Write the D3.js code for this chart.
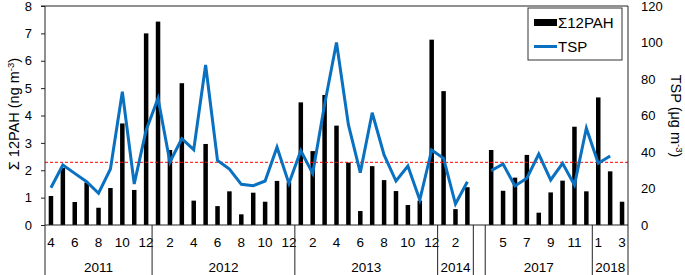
<!DOCTYPE html>
<html>
<head>
<meta charset="utf-8">
<script src="https://cdn.jsdelivr.net/npm/d3@7"></script>
<style>
  body { margin: 0; background: #fff; }
  svg { font-family: "Liberation Sans", Arial, sans-serif; display: block; }
</style>
</head>
<body>
<svg id="chart" width="685" height="275"></svg>
<script>
// one slot per sampling month, "gap" is the empty slot between 2014 and 2017
const categories = [
  "2011-4","2011-5","2011-6","2011-7","2011-8","2011-9","2011-10","2011-11","2011-12",
  "2012-1","2012-2","2012-3","2012-4","2012-5","2012-6","2012-7","2012-8","2012-9","2012-10","2012-11","2012-12",
  "2013-1","2013-2","2013-3","2013-4","2013-5","2013-6","2013-7","2013-8","2013-9","2013-10","2013-11","2013-12",
  "2014-1","2014-2","2014-3",
  "gap",
  "2017-4","2017-5","2017-6","2017-7","2017-8","2017-9","2017-10","2017-11","2017-12",
  "2018-1","2018-2","2018-3"
];

// Σ12PAH (ng m-3)
const pah = [
  1.06, 2.08, 0.84, 1.55, 0.63, 1.35, 3.71, 1.28, 7.0,
  7.43, 2.74, 5.18, 0.89, 2.96, 0.69, 1.23, 0.39, 1.18, 0.85, 1.61, 1.56,
  4.48, 2.70, 4.75, 3.63, 2.28, 0.51, 2.15, 1.64, 1.24, 0.73, 0.89, 6.77,
  4.89, 0.58, 1.38,
  null,
  2.74, 1.25, 1.73, 2.56, 0.45, 1.19, 1.62, 3.59, 1.23,
  4.66, 1.96, 0.85
];

// TSP (µg m-3)
const tsp = [
  20.4, 32.9, 28.3, 23.7, 17.4, 30.7, 73.0, 22.5, 52,
  69.4, 34.5, 47.3, 41.3, 87.7, 35.4, 30.7, 22.3, 21.5, 24.1, 42.6, 22.8,
  40.7, 28.3, 66, 100, 55, 28.7, 61.5, 38.4, 24.1, 32.3, 13.7, 41.1,
  36.5, 11.5, 23.7,
  null,
  29.8, 33.4, 21.4, 25.6, 38.9, 24.7, 33.8, 21.9, 53,
  33.8, 37.8, null
];

const refLine = 2.29;

const monthTicks = [
  "2011-4","2011-6","2011-8","2011-10","2011-12",
  "2012-2","2012-4","2012-6","2012-8","2012-10","2012-12",
  "2013-2","2013-4","2013-6","2013-8","2013-10","2013-12",
  "2014-2",
  "2017-5","2017-7","2017-9","2017-11",
  "2018-1","2018-3"
];

// year groups: label, first slot, last slot
const yearGroups = [
  ["2011", "2011-4", "2011-12"],
  ["2012", "2012-1", "2012-12"],
  ["2013", "2013-1", "2013-12"],
  ["2014", "2014-1", "2014-3"],
  ["", "gap", "gap"],
  ["2017", "2017-4", "2017-12"],
  ["2018", "2018-1", "2018-3"]
];

const pLeft = 45, pRight = 628, pTop = 6, pBottom = 225;
const svg = d3.select("#chart");

const x = d3.scaleBand().domain(categories).range([pLeft, pRight]);
const yL = d3.scaleLinear().domain([0, 8]).range([pBottom, pTop]);
const yR = d3.scaleLinear().domain([0, 120]).range([pBottom, pTop]);

const rows = categories.map((c, i) => ({ c: c, pah: pah[i], tsp: tsp[i] }));

// bars
const barW = 4.5;
svg.append("g")
  .selectAll("rect")
  .data(rows.filter(d => d.pah != null))
  .join("rect")
  .attr("x", d => x(d.c) + x.bandwidth() / 2 - barW / 2)
  .attr("y", d => yL(d.pah))
  .attr("width", barW)
  .attr("height", d => yL(0) - yL(d.pah))
  .attr("fill", "#000");

// reference line
svg.append("line")
  .attr("x1", pLeft).attr("x2", pRight)
  .attr("y1", yL(refLine)).attr("y2", yL(refLine))
  .attr("stroke", "#ff0000")
  .attr("stroke-width", 1)
  .attr("stroke-dasharray", "3,2");

// TSP line
const line = d3.line()
  .defined(d => d.tsp != null)
  .x(d => x(d.c) + x.bandwidth() / 2)
  .y(d => yR(d.tsp));

svg.append("path")
  .datum(rows)
  .attr("d", line)
  .attr("fill", "none")
  .attr("stroke", "#0A70C0")
  .attr("stroke-width", 3)
  .attr("stroke-linejoin", "miter");

// frame
svg.append("line")
  .attr("x1", pLeft - 4).attr("x2", pRight)
  .attr("y1", pTop).attr("y2", pTop)
  .attr("stroke", "#222");
svg.append("line")
  .attr("x1", pLeft).attr("x2", pRight)
  .attr("y1", pBottom).attr("y2", pBottom)
  .attr("stroke", "#222");

// left axis
const axL = svg.append("g")
  .attr("transform", `translate(${pLeft},0)`)
  .call(d3.axisLeft(yL).ticks(8).tickSize(4).tickPadding(9).tickSizeOuter(0));
axL.select(".domain").remove();
axL.append("line").attr("x1", 0).attr("x2", 0).attr("y1", pTop).attr("y2", 275).attr("stroke", "#222");
axL.selectAll(".tick line").attr("stroke", "#222");
axL.selectAll("text").attr("font-size", 13).attr("fill", "#000");
axL.attr("font-family", null).attr("font-size", null);

// right axis
const axR = svg.append("g")
  .attr("transform", `translate(${pRight},0)`)
  .call(d3.axisRight(yR).ticks(6).tickSize(0).tickPadding(13));
axR.select(".domain").remove();
axR.append("line").attr("x1", 0).attr("x2", 0).attr("y1", pTop).attr("y2", 275).attr("stroke", "#222");
axR.selectAll("text").attr("font-size", 13).attr("fill", "#000");
axR.attr("font-family", null).attr("font-size", null);

// month tick labels
svg.append("g")
  .selectAll("text")
  .data(monthTicks)
  .join("text")
  .attr("x", d => x(d) + x.bandwidth() / 2)
  .attr("y", 246.5)
  .attr("text-anchor", "middle")
  .attr("font-size", 13.5)
  .text(d => d.split("-")[1]);

// year separators and labels
const groups = yearGroups.map(g => ({ label: g[0], x0: x(g[1]), x1: x(g[2]) + x.bandwidth() }));
svg.append("g")
  .selectAll("line")
  .data(groups.slice(1))
  .join("line")
  .attr("x1", d => d.x0).attr("x2", d => d.x0)
  .attr("y1", pBottom).attr("y2", 275)
  .attr("stroke", "#222");
svg.append("g")
  .selectAll("text")
  .data(groups)
  .join("text")
  .attr("x", d => (d.x0 + d.x1) / 2)
  .attr("y", 271.5)
  .attr("text-anchor", "middle")
  .attr("font-size", 13.5)
  .text(d => d.label);

// axis titles
const tl = svg.append("text")
  .attr("transform", "translate(19,114) rotate(-90)")
  .attr("text-anchor", "middle")
  .attr("font-size", 14.5);
tl.append("tspan").text("Σ 12PAH (ng m");
tl.append("tspan").attr("dy", -5).attr("font-size", 9.5).text("-3");
tl.append("tspan").attr("dy", 5).text(")");

const tr = svg.append("text")
  .attr("transform", "translate(671,116) rotate(90)")
  .attr("text-anchor", "middle")
  .attr("font-size", 14.5);
tr.append("tspan").text("TSP (μg m");
tr.append("tspan").attr("dy", -5).attr("font-size", 9.5).text("-3");
tr.append("tspan").attr("dy", 5).text(")");

// legend
const lg = svg.append("g").attr("transform", "translate(528,8)");
lg.append("rect")
  .attr("width", 94).attr("height", 52)
  .attr("fill", "#fff").attr("stroke", "#333");
lg.append("rect")
  .attr("x", 6).attr("y", 11).attr("width", 23).attr("height", 7)
  .attr("fill", "#000");
lg.append("text")
  .attr("x", 30).attr("y", 20)
  .attr("font-size", 15)
  .text("Σ12PAH");
lg.append("line")
  .attr("x1", 6).attr("x2", 29).attr("y1", 38.5).attr("y2", 38.5)
  .attr("stroke", "#0A70C0").attr("stroke-width", 3);
lg.append("text")
  .attr("x", 30).attr("y", 44)
  .attr("font-size", 15)
  .text("TSP");
</script>
</body>
</html>
